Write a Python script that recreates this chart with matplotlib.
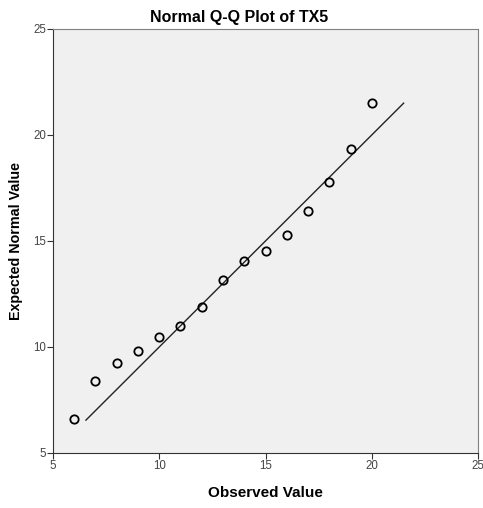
import matplotlib
matplotlib.use('Agg')
import matplotlib.pyplot as plt

plt.rcParams['font.family'] = ['Liberation Sans', 'DejaVu Sans']

observed = [6, 7, 8, 9, 10, 11, 12, 13, 14, 15, 16, 17, 18, 19, 20]
expected = [6.59, 8.41, 9.25, 9.81, 10.47, 10.99, 11.90, 13.17, 14.04,
            14.54, 15.28, 16.43, 17.77, 19.34, 21.49]
# reference line y = x
line_x = [6.55, 21.5]
ticks = [5, 10, 15, 20, 25]

fig = plt.figure(figsize=(4.83, 5.08), dpi=100)
ax = fig.add_axes([0.1097, 0.1083, 0.88, 0.8347])
ax.set_facecolor('#f0f0f0')

ax.plot(line_x, line_x, color='#222222', lw=1.0)
ax.plot(observed, expected, 'o', ms=6, mfc='none', mec='black', mew=1.3)

ax.set_xlim(5, 25)
ax.set_ylim(5, 25)
ax.set_xticks(ticks)
ax.set_yticks(ticks)
ax.tick_params(labelsize=8.3, length=4, color='#333333', labelcolor='#444444', pad=1)

for s in ['top', 'right']:
    ax.spines[s].set_color('#808080')
for s in ['left', 'bottom']:
    ax.spines[s].set_color('#333333')

fig.text(0.495, 0.966, 'Normal Q-Q Plot of TX5', fontsize=11.5, fontweight='bold',
         ha='center', va='center')
ax.set_xlabel('Observed Value', fontsize=11, fontweight='bold', labelpad=10)
ax.set_ylabel('Expected Normal Value', fontsize=10.3, fontweight='bold', labelpad=7)

fig.savefig('out.png', dpi=100)
